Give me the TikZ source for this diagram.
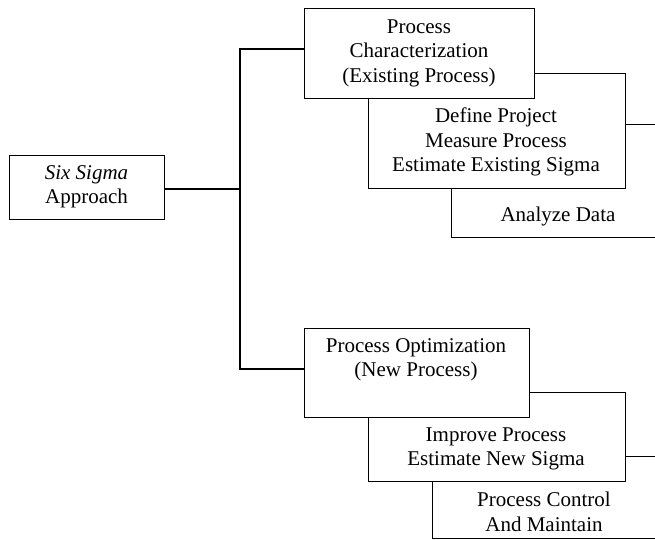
\documentclass[tikz,border=0pt]{standalone}
\usepackage{fontspec}
\setmainfont{Liberation Serif}
\usepackage{tikz}
\usetikzlibrary{positioning,calc}

\tikzset{
  box/.style={draw, fill=white, line width=0.9pt, outer sep=0pt, inner sep=0pt},
  boxtext/.style={align=center, inner sep=0pt, font=\fontsize{21}{24.5}\selectfont},
  trunkline/.style={line width=2pt}
}

\begin{document}
\begin{tikzpicture}[x=1pt, y=-1pt]
  \useasboundingbox (0,0) rectangle (655,540);
  \clip (0,0) rectangle (655,540);
  % root
  \node[box, minimum width=155pt, minimum height=64pt] (six) at (86.5,187) {};
  \node[boxtext] (sixtext) at (86.5,187) {\textit{Six Sigma}\\Approach};
  % upper branch: back to front
  \node[box, minimum width=290pt, minimum height=113pt] (pcdata) at (596,180.5) {};
  \node[box, minimum width=257pt, minimum height=115pt] (pcsteps) at (496.5,130.5) {};
  \node[box, minimum width=230pt, minimum height=90pt] (pc) at (419,53) {};
  \node[boxtext] (pctext) at (419,53) {Process\\Characterization\\(Existing Process)};
  \node[boxtext] (pcstepstext) at (496,142) {Define Project\\Measure Process\\Estimate Existing Sigma};
  \node[boxtext] (pcdatatext) at (558,216) {Analyze Data};
  % lower branch: back to front
  \node[box, minimum width=290pt, minimum height=82pt] (pocontrol) at (577,497) {};
  \node[box, minimum width=257pt, minimum height=89pt] (posteps) at (496.5,436.5) {};
  \node[box, minimum width=225pt, minimum height=89pt] (po) at (416.5,372.5) {};
  \node[boxtext] (potext) at (416,360) {Process Optimization\\(New Process)};
  \node[boxtext] (postepstext) at (496,449) {Improve Process\\Estimate New Sigma};
  \node[boxtext] (pocontroltext) at (544,512) {Process Control\\And Maintain};
  % connectors
  \coordinate (trunk) at (240,189);
  \draw[trunkline] (six.east |- trunk) -- (trunk);
  \draw[trunkline] ([yshift=4pt]pc.west) -| (trunk) |- ([yshift=4pt]po.west);
\end{tikzpicture}
\end{document}
